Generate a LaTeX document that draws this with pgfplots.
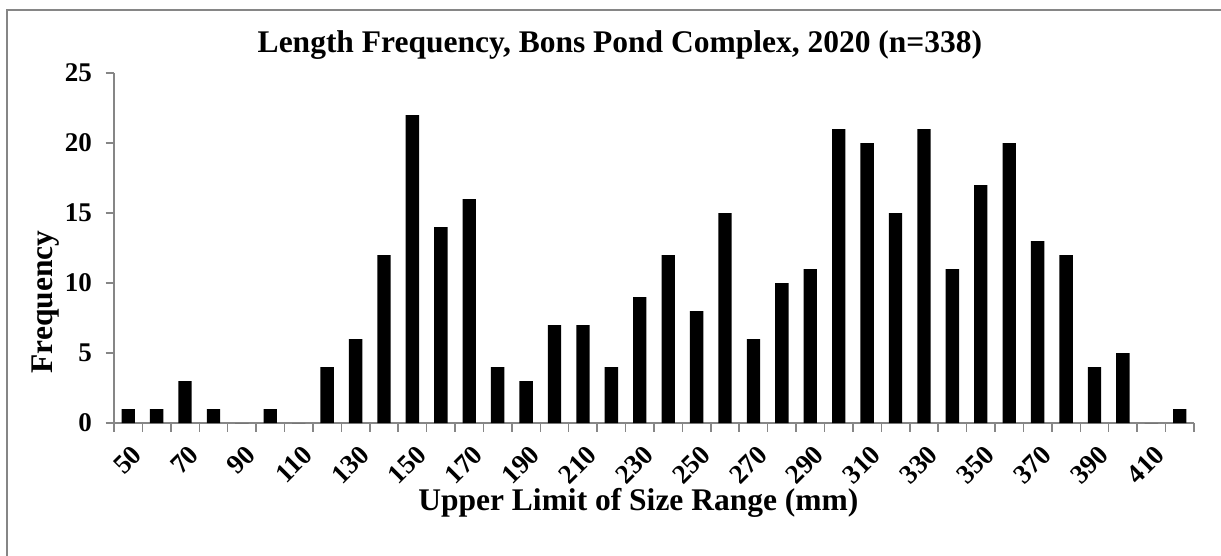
\documentclass[border=0pt]{standalone}
\usepackage{fontspec}
\setmainfont{Liberation Serif}
\usepackage{pgfplots}
\pgfplotsset{compat=1.18}
\definecolor{axgray}{HTML}{868686}
\pgfplotstableread{
x y
0 1
1 1
2 3
3 1
4 0
5 1
6 0
7 4
8 6
9 12
10 22
11 14
12 16
13 4
14 3
15 7
16 7
17 4
18 9
19 12
20 8
21 15
22 6
23 10
24 11
25 21
26 20
27 15
28 21
29 11
30 17
31 20
32 13
33 12
34 4
35 5
36 0
37 1
}\freq
\begin{document}
\begin{tikzpicture}
\path[use as bounding box] (0,0) rectangle (1221bp,-556bp);
\draw[axgray, line width=2bp] (7bp,-556bp) -- (7bp,-10bp) -- (1221bp,-10bp);
\begin{axis}[
  at={(114bp,-423bp)}, anchor=south west,
  scale only axis, width=1080bp, height=350bp,
  xmin=-0.5, xmax=37.5, ymin=0, ymax=25,
  axis lines*=left,
  axis line style={axgray, line width=1.5bp, -},
  tick style={axgray, line width=1.5bp},
  tick align=outside, major tick length=8.5bp,
  xtick={-0.5,0.5,...,37.5},
  x tick label as interval,
  xticklabels={50,,70,,90,,110,,130,,150,,170,,190,,210,,230,,250,,270,,290,,310,,330,,350,,370,,390,,410,},
  ytick={0,5,...,25},
  /pgf/number format/assume math mode=true,
  xticklabel style={font=\fontsize{27bp}{30bp}\selectfont\bfseries, inner sep=0pt, xshift=2.5bp, yshift=-12bp, rotate=45, anchor=north east},
  yticklabel style={font=\fontsize{27bp}{30bp}\selectfont\bfseries, anchor=east, inner sep=0pt, xshift=-13.5bp},
  title={Length Frequency, Bons Pond Complex, 2020 (n=338)},
  title style={at={(rel axis cs:0.4685,1.0429)}, anchor=base, inner sep=0pt, font=\fontsize{31.5bp}{36bp}\selectfont\bfseries},
  xlabel={Upper Limit of Size Range (mm)},
  xlabel style={at={(rel axis cs:0.4856,-0.2486)}, anchor=base, inner sep=0pt, font=\fontsize{31.5bp}{36bp}\selectfont\bfseries},
  ylabel={Frequency},
  every axis y label/.style={at={(rel axis cs:-0.0574,0.3457)}, rotate=90, anchor=base, inner sep=0pt, font=\fontsize{31.5bp}{36bp}\selectfont\bfseries},
  clip=false,
]
\addplot[ybar, bar width=0.47, fill=black, draw=none] table[x=x, y=y] {\freq};
\end{axis}
\end{tikzpicture}
\end{document}
